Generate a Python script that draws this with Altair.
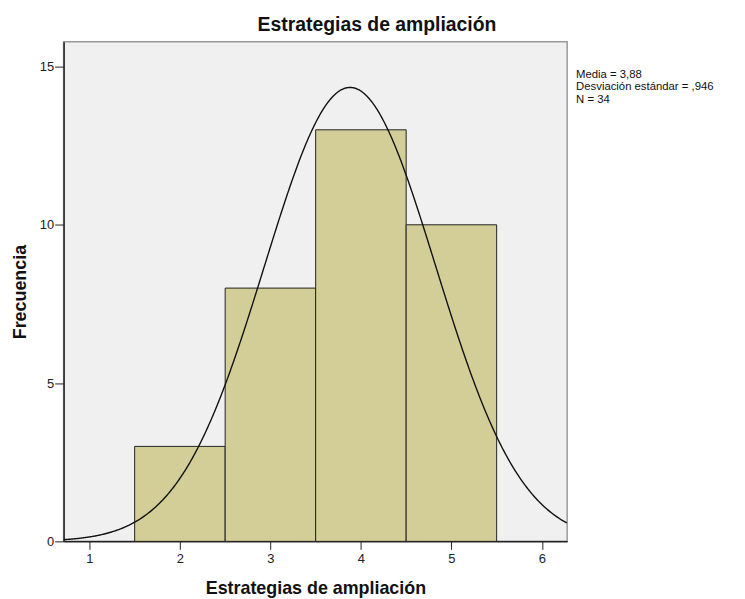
import altair as alt
import pandas as pd

bin_start = [1.5, 2.5, 3.5, 4.5]
bin_end = [2.5, 3.5, 4.5, 5.5]
counts = [3, 8, 13, 10]

mean_val = 3.88
sd_val = 0.946
n_val = 34
bin_width = 1.0

stats_lines = ["Media = 3,88", "Desviación estándar = ,946", "N = 34"]

x_domain = [0.715, 6.279]
y_domain = [0, 15.78]
x_ticks = [1, 2, 3, 4, 5, 6]
y_ticks = [0, 5, 10, 15]

FONT = "Liberation Sans"

bars_df = pd.DataFrame({"start": bin_start, "end": bin_end, "count": counts})
stats_df = pd.DataFrame({"line": ["\n".join(stats_lines)]})

xs = alt.Scale(domain=x_domain, nice=False, zero=False)
ys = alt.Scale(domain=y_domain, nice=False, zero=False)

x_axis = alt.Axis(values=x_ticks, title="Estrategias de ampliación", grid=False,
                  tickSize=8, tickColor="#222", domainColor="#222", domainWidth=1.5,
                  labelFont=FONT, labelFontSize=13, labelColor="#222", labelPadding=3,
                  titleFont=FONT, titleFontSize=18, titleFontWeight="bold", titleColor="#111",
                  titlePadding=14, format="d")
y_axis = alt.Axis(values=y_ticks, title="Frecuencia", grid=False,
                  tickSize=9, tickColor="#222", domainColor="#222", domainWidth=1.5,
                  labelFont=FONT, labelFontSize=13, labelColor="#222", labelPadding=1,
                  titleFont=FONT, titleFontSize=18, titleFontWeight="bold", titleColor="#111",
                  titlePadding=10, format="d")

bars = alt.Chart(bars_df).mark_rect(fill="#d3ce97", stroke="#222", strokeWidth=1).encode(
    x=alt.X("start:Q", scale=xs, axis=x_axis),
    x2="end:Q",
    y=alt.Y("count:Q", scale=ys, axis=y_axis),
    y2=alt.datum(0),
)

curve = alt.Chart(
    alt.sequence(start=x_domain[0], stop=x_domain[1] + 0.005, step=0.01, as_="xv")
).transform_calculate(
    yv=f"{n_val}*{bin_width}/({sd_val}*sqrt(2*PI))*exp(-0.5*pow((datum.xv-{mean_val})/{sd_val},2))"
).mark_line(color="#111", strokeWidth=1.4, clip=True).encode(
    x=alt.X("xv:Q", scale=xs),
    y=alt.Y("yv:Q", scale=ys),
)

stats = alt.Chart(stats_df).mark_text(
    align="left", baseline="top", font=FONT, fontSize=11.4, color="#111",
    lineBreak="\n", lineHeight=12.6, clip=False
).encode(
    x=alt.value(516),
    y=alt.value(27),
    text="line:N",
)

chart = alt.layer(bars, curve, stats).properties(
    width=507,
    height=503,
    title=alt.TitleParams("Estrategias de ampliación", font=FONT, fontSize=19.5,
                          fontWeight="bold", color="#111", anchor="middle", dx=62, offset=6),
    autosize=alt.AutoSizeParams(type="none"),
    padding={"left": 56, "top": 32, "right": 171, "bottom": 56},
    background="white",
).configure_view(fill="#f0f0f0", stroke="#999", strokeWidth=1.5)

chart.save("out.html", embed_options={"renderer": "svg", "actions": False})
